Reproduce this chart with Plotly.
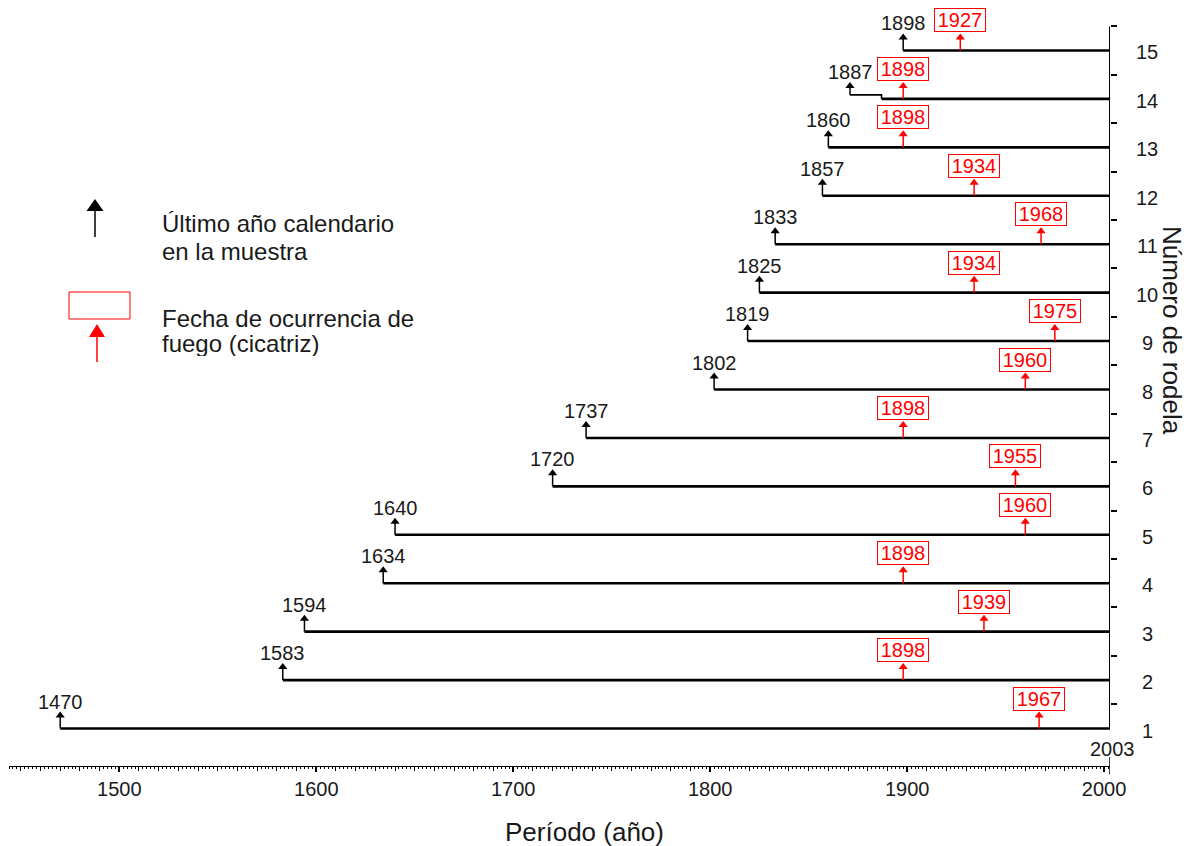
import plotly.graph_objects as go

# ---------------- data ----------------
rodela = list(range(1, 16))
first_year = [1470, 1583, 1594, 1634, 1640, 1720, 1737, 1802, 1819, 1825, 1833, 1857, 1860, 1887, 1898]
fire_year = [1967, 1898, 1939, 1898, 1960, 1955, 1898, 1960, 1975, 1934, 1968, 1934, 1898, 1898, 1927]
last_year = 2003
row14_marker_year = 1871   # drawn position of the elbow-marked start of rodela 14
x_ticks = [1500, 1600, 1700, 1800, 1900, 2000]

FONT = "Liberation Sans, Arial, sans-serif"
BLACK = "#000000"
RED = "#ff0000"
TXT = "#1a1a1a"

# geometry (layout only); page is offset by the 8px body margin
OFF = 8
L, R, T, B = 1, 93, 2, 88
W, H = 1195, 846
PW, PH = W - L - R, H - T - B
ROW_PX = 48.43
head = 13 / ROW_PX
raise14 = 4 / ROW_PX

def px(x):
    return (x - OFF - L) / PW

def py(y):
    return (H - B - (y - OFF)) / PH

fig = go.Figure()

# row lines
lx, ly = [], []
for r, s in zip(rodela, first_year):
    lx += [s, last_year, None]
    ly += [r, r, None]
fig.add_trace(go.Scatter(x=lx, y=ly, mode="lines", line=dict(color=BLACK, width=2.6),
                         hoverinfo="skip", showlegend=False))

# rodela 14 elbow
fig.add_trace(go.Scatter(x=[row14_marker_year, first_year[13], first_year[13]],
                         y=[14 + raise14, 14 + raise14, 14], mode="lines",
                         line=dict(color=BLACK, width=1.6), hoverinfo="skip", showlegend=False))

# black start arrows
bx, by, hx, hy = [], [], [], []
for r, s in zip(rodela, first_year):
    xs = row14_marker_year if r == 14 else s
    base = r + raise14 if r == 14 else r
    bx += [xs, xs, None]
    by += [base, r + head, None]
    hx.append(xs)
    hy.append(r + head)
fig.add_trace(go.Scatter(x=bx, y=by, mode="lines", line=dict(color=BLACK, width=1.5),
                         hoverinfo="skip", showlegend=False))
fig.add_trace(go.Scatter(x=hx, y=hy, mode="markers",
                         marker=dict(symbol="triangle-up", size=8, color=BLACK),
                         hoverinfo="skip", showlegend=False))

# red fire arrows
rx, ry, rhx, rhy = [], [], [], []
for r, f in zip(rodela, fire_year):
    rx += [f, f, None]
    ry += [r, r + head, None]
    rhx.append(f)
    rhy.append(r + head)
fig.add_trace(go.Scatter(x=rx, y=ry, mode="lines", line=dict(color=RED, width=1.5),
                         hoverinfo="skip", showlegend=False))
fig.add_trace(go.Scatter(x=rhx, y=rhy, mode="markers",
                         marker=dict(symbol="triangle-up", size=8, color=RED),
                         hoverinfo="skip", showlegend=False))

# invisible trace for the fine-tick axis
fig.add_trace(go.Scatter(x=[last_year], y=[1], xaxis="x2", yaxis="y", mode="markers",
                         marker=dict(opacity=0), hoverinfo="skip", showlegend=False))

ann = []
for r, s in zip(rodela, first_year):
    xs = row14_marker_year if r == 14 else s
    ann.append(dict(x=xs, y=r, xref="x", yref="y", text=str(s), showarrow=False,
                    yshift=27, font=dict(family=FONT, size=20, color=TXT)))
for r, f in zip(rodela, fire_year):
    ann.append(dict(x=f, y=r, xref="x", yref="y", text=str(f), showarrow=False,
                    yshift=30, width=50, height=22, borderpad=0,
                    bordercolor=RED, borderwidth=1, bgcolor="white",
                    font=dict(family=FONT, size=20, color=RED)))
for r in rodela:
    ann.append(dict(x=last_year, y=r, xref="x", yref="y", text=str(r), showarrow=False,
                    xshift=37, yshift=-2, font=dict(family=FONT, size=20, color=TXT)))
ann.append(dict(x=last_year, y=1, xref="x", yref="y", text=str(last_year), showarrow=False,
                yshift=-20, xshift=2, font=dict(family=FONT, size=20, color=TXT)))
# axis titles
ann.append(dict(x=px(584), y=py(832), xref="paper", yref="paper", text="Período (año)",
                showarrow=False, xanchor="center", yanchor="middle",
                font=dict(family=FONT, size=26, color=TXT)))
ann.append(dict(x=px(1172), y=py(330), xref="paper", yref="paper", text="Número de rodela",
                showarrow=False, textangle=90, xanchor="center", yanchor="middle",
                font=dict(family=FONT, size=26, color=TXT)))
# legend texts
for txt, yy in [("Último año calendario", 223), ("en la muestra", 251),
                ("Fecha de ocurrencia de", 318), ("fuego (cicatriz)", 343)]:
    ann.append(dict(x=px(160), y=py(yy), xref="paper", yref="paper", text=txt,
                    showarrow=False, xanchor="left", yanchor="middle", height=25,
                    font=dict(family=FONT, size=24, color=TXT)))

shapes = [
    # right axis line
    dict(type="line", xref="x", yref="y", x0=last_year, x1=last_year, y0=1, y1=15.5,
         line=dict(color=BLACK, width=2)),
    # tick at 2003 on the year axis
    dict(type="line", xref="x", yref="paper", x0=last_year, x1=last_year, y0=-0.011, y1=0.012,
         line=dict(color=BLACK, width=1.5)),
    # legend: black arrow
    dict(type="line", xref="paper", yref="paper", x0=px(95), x1=px(95), y0=py(209), y1=py(237),
         line=dict(color=BLACK, width=1.5)),
    dict(type="path", xref="paper", yref="paper",
         path=f"M {px(95)} {py(199)} L {px(86.5)} {py(211)} L {px(103.5)} {py(211)} Z",
         fillcolor=BLACK, line=dict(color=BLACK, width=0)),
    # legend: red box + arrow
    dict(type="rect", xref="paper", yref="paper", x0=px(69), x1=px(130), y0=py(319), y1=py(292),
         line=dict(color=RED, width=1)),
    dict(type="line", xref="paper", yref="paper", x0=px(97), x1=px(97), y0=py(334), y1=py(362),
         line=dict(color=RED, width=1.5)),
    dict(type="path", xref="paper", yref="paper",
         path=f"M {px(97)} {py(324)} L {px(89)} {py(337)} L {px(105)} {py(337)} Z",
         fillcolor=RED, line=dict(color=RED, width=0)),
]

fig.update_layout(
    width=W, height=H,
    margin=dict(l=L, r=R, t=T, b=B, autoexpand=False),
    plot_bgcolor="white", paper_bgcolor="white",
    font=dict(family=FONT, color=TXT),
    xaxis=dict(range=[1444, last_year], tickvals=x_ticks, ticks="outside", ticklen=5,
               tickwidth=2, tickcolor=BLACK, showline=True, linecolor=BLACK, linewidth=1,
               showgrid=False, zeroline=False,
               tickfont=dict(family=FONT, size=20, color=TXT),
               minor=dict(dtick=10, tick0=1450, ticks="outside", ticklen=4, tickwidth=1,
                          tickcolor=BLACK, showgrid=False)),
    xaxis2=dict(range=[1444, last_year], overlaying="x", anchor="y", side="bottom",
                tick0=1444, dtick=2, ticks="outside", ticklen=2, tickwidth=1, tickcolor=BLACK,
                showticklabels=False, showline=False, showgrid=False, zeroline=False),
    yaxis=dict(range=[0.226, 15.836], side="right", tickvals=[v + 0.5 for v in rodela],
               ticks="outside", ticklen=6, tickwidth=1.5, tickcolor=BLACK,
               showticklabels=False, showline=False, showgrid=False, zeroline=False),
    annotations=ann,
    shapes=shapes,
    showlegend=False,
)

fig.write_html("out.html")
